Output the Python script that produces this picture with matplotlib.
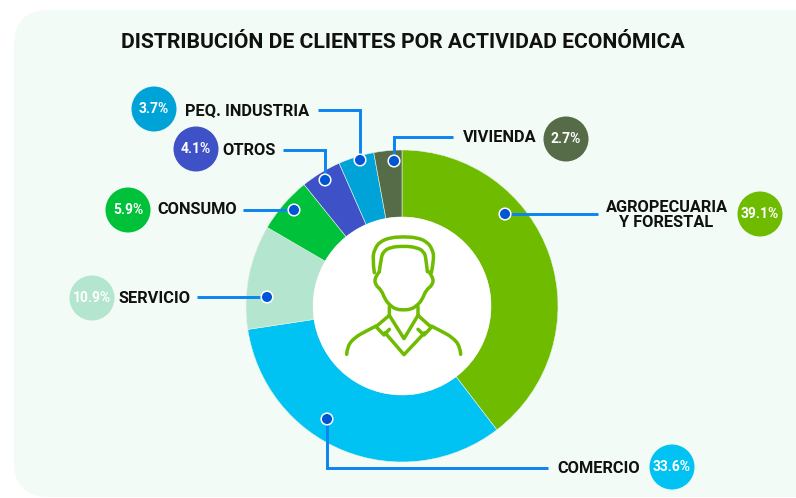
import matplotlib
matplotlib.use('Agg')
import matplotlib.pyplot as plt
from matplotlib.patches import FancyBboxPatch, Circle
from matplotlib.path import Path
from matplotlib.patches import PathPatch

W, H = 796, 498

categorias = ['AGROPECUARIA\nY FORESTAL', 'COMERCIO', 'SERVICIO', 'CONSUMO', 'OTROS', 'PEQ. INDUSTRIA', 'VIVIENDA']
valores = [39.1, 33.6, 10.9, 5.9, 4.1, 3.7, 2.7]
# tamano de cada arco tal como se ve en la imagen (no coincide del todo con el rotulo)
arcos = [39.6, 33.0, 10.8, 5.8, 4.2, 3.7, 2.9]
colores = ['#6EBB00', '#00C2F3', '#B3E5CF', '#00C13A', '#3F51C6', '#00A3D7', '#566B47']

# posiciones en pixeles de la imagen (y hacia abajo)
burbujas = [(760, 214), (672, 467), (92, 298), (128, 210), (196, 149), (154, 109), (566, 139)]
etiquetas = [(666.5, 214.5), (599, 468.5), (154.5, 298.5), (197, 209.5), (249, 150.5), (247.5, 110.5), (499.5, 137.5)]
lineas = [
    [(598, 214), (505, 214)],
    [(548, 468), (327, 468), (327, 419)],
    [(197, 297), (267, 297)],
    [(243, 210), (294, 210)],
    [(283, 150), (325, 150), (325, 180)],
    [(318, 110), (360, 110), (360, 160)],
    [(453, 137), (394, 137), (394, 161)],
]

plt.rcParams['font.family'] = ['Roboto', 'DejaVu Sans']


def yy(y):
    return H - y


def suave(pts):
    # curva cuadratica por los puntos medios, mantiene los extremos
    verts = [pts[0]]
    codes = [Path.MOVETO]
    for i in range(1, len(pts) - 1):
        fin = pts[i + 1] if i == len(pts) - 2 else ((pts[i][0] + pts[i + 1][0]) / 2, (pts[i][1] + pts[i + 1][1]) / 2)
        verts += [pts[i], fin]
        codes += [Path.CURVE3, Path.CURVE3]
    return Path(verts, codes)


fig = plt.figure(figsize=(W / 100, H / 100), dpi=100)
ax = fig.add_axes([0, 0, 1, 1])
ax.set_xlim(0, W)
ax.set_ylim(0, H)
ax.axis('off')

# panel de fondo
ax.add_patch(FancyBboxPatch((14 + 35, yy(497) + 35), 900, 487 - 70,
                            boxstyle='round,pad=35,rounding_size=35',
                            fc='#F2FBF5', ec='none', zorder=0))

ax.pie(arcos, colors=colores, startangle=90, counterclock=False,
       center=(402, yy(306)), radius=156, frame=True,
       wedgeprops=dict(width=156 - 89, edgecolor='#E6F3E6', linewidth=0.4, zorder=1))
ax.set_xlim(0, W)
ax.set_ylim(0, H)
ax.set_aspect('auto')
ax.axis('off')
ax.add_patch(Circle((402, yy(306)), 89, fc='white', ec='none', zorder=2))

ax.text(403, yy(42), 'DISTRIBUCIÓN DE CLIENTES POR ACTIVIDAD ECONÓMICA',
        ha='center', va='center', fontsize=15.2, fontweight='bold', color='#111111')

for linea in lineas:
    xs = [p[0] for p in linea]
    ys = [yy(p[1]) for p in linea]
    ax.plot(xs, ys, color='#0A84F0', lw=2.1, solid_joinstyle='miter',
            solid_capstyle='butt', zorder=3)
    ax.add_patch(Circle((xs[-1], ys[-1]), 5.8, fc='#0055D4', ec='white', lw=1.1, zorder=4))

for cat, val, col, b, e in zip(categorias, valores, colores, burbujas, etiquetas):
    ax.add_patch(Circle((b[0], yy(b[1])), 22.5, fc=col, ec='none', zorder=3))
    ax.text(b[0], yy(b[1]), f'{val}%', ha='center', va='center', color='white',
            fontsize=10, fontweight='bold', zorder=5)
    ax.text(e[0], yy(e[1]), cat, ha='center', va='center', color='#111111',
            fontsize=11.8, fontweight='bold', linespacing=1.0, zorder=5)

# icono de la persona (trazos en pixeles del recorte)
trazos = [
    [(133, 158), (127, 115), (135, 85), (150, 65), (180, 53), (220, 50), (262, 53), (290, 65), (306, 85), (313, 115), (304, 158)],
    [(148, 155), (153, 115), (160, 95), (180, 82), (220, 78), (260, 82), (282, 95), (288, 115), (292, 155)],
    [(148, 155), (134, 172), (136, 195), (154, 210), (165, 238), (180, 256), (198, 268), (220, 270), (243, 268), (262, 256), (277, 238), (288, 210), (308, 195), (310, 172), (296, 155)],
    [(50, 403), (52, 378), (75, 352), (105, 335), (138, 318)],
    [(392, 403), (390, 378), (367, 352), (337, 335), (304, 318)],
]
rectos = [
    [(178, 260), (178, 286), (222, 356), (264, 286), (264, 260)],
    [(178, 286), (138, 320), (162, 345), (178, 328)],
    [(264, 286), (304, 322), (282, 345), (264, 328)],
    [(165, 338), (222, 404), (284, 338)],
]


def a_px(t):
    return [(330 + x / 3, yy(220 + y / 3)) for x, y in t]


for t in trazos:
    ax.add_patch(PathPatch(suave(a_px(t)), fc='none', ec='#6EBB00', lw=2.5,
                           capstyle='round', joinstyle='round', zorder=4))
for t in rectos:
    ax.plot(*zip(*a_px(t)), color='#6EBB00', lw=2.5, solid_capstyle='round',
            solid_joinstyle='round', zorder=4)

fig.savefig('out.png', dpi=100, facecolor='white')
